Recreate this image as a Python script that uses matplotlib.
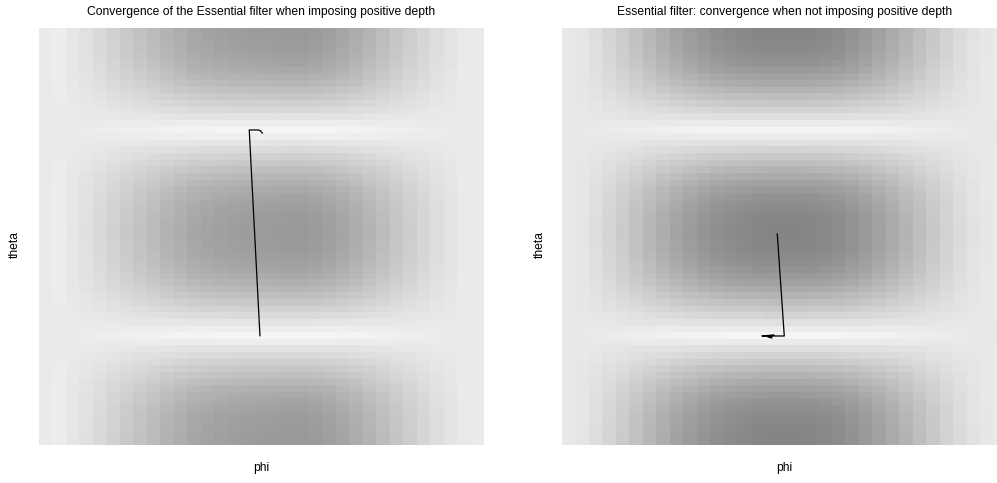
import numpy as np
import matplotlib
matplotlib.use("Agg")
import matplotlib.pyplot as plt

plt.rcParams['font.family'] = ['Liberation Sans', 'DejaVu Sans']

# grid: 33 phi columns, 63 theta rows
phi = np.linspace(-np.pi, np.pi, 33)
theta = np.linspace(0, np.pi, 63)

# grey level (0-255) across phi, read on the darkest theta row
cols_left = [234, 237, 230, 224, 217, 209, 201, 194, 187, 179, 173, 167, 163, 160, 158, 156, 155,
             154, 153, 153, 155, 159, 165, 172, 180, 188, 197, 205, 213, 221, 227, 233, 235]
cols_right = [232, 229, 222, 213, 203, 193, 183, 173, 164, 156, 149, 143, 139, 136, 134, 133, 133,
              133, 134, 136, 140, 146, 153, 161, 170, 180, 190, 200, 210, 219, 226, 231, 233]

# grey level across theta (bottom to top), read on the central phi column
rows_left = [153, 153, 154, 155, 157, 160, 164, 169, 175, 182, 190, 198, 207, 216, 226, 237, 245,
             238, 228, 218, 208, 199, 190, 182, 175, 169, 164, 160, 157, 155, 154, 153,
             153,
             154, 155, 157, 160, 164, 169, 175, 182, 190, 199, 208, 218, 228, 238,
             245,
             237, 226, 216, 207, 198, 190, 182, 175, 169, 164, 160, 157, 155, 154, 153]
rows_right = [133, 133, 134, 136, 138, 142, 147, 153, 161, 169, 179, 189, 200, 211, 222, 235, 245,
              236, 224, 212, 201, 190, 180, 170, 161, 153, 147, 142, 138, 135, 134, 133,
              133,
              134, 135, 138, 142, 147, 153, 161, 170, 180, 190, 201, 212, 224, 236,
              245,
              235, 222, 211, 200, 189, 179, 169, 161, 153, 147, 142, 138, 136, 134, 133]

# filter trajectories (phi, theta)
path_left_phi = [-0.022, -0.178, -0.044, -0.01, 0.012]
path_left_theta = [0.811, 2.386, 2.386, 2.378, 2.362]
path_right_phi = [-0.105, -0.003, -0.328, -0.153, -0.240, -0.182, -0.211, -0.19]
path_right_theta = [1.590, 0.809, 0.809, 0.817, 0.801, 0.794, 0.809, 0.805]


def grid(cols, rows, edge):
    c = edge - np.array(cols, float)
    r = edge - np.array(rows, float)
    return edge - np.outer(r, c) / r.max()


dphi = phi[1] - phi[0]
dth = theta[1] - theta[0]
ext = [phi[0] - dphi / 2, phi[-1] + dphi / 2, theta[0] - dth / 2, theta[-1] + dth / 2]

fig = plt.figure(figsize=(9.97, 4.83), dpi=100)

panels = [
    (0.0391, cols_left, rows_left, 234, path_left_phi, path_left_theta,
     'Convergence of the Essential filter when imposing positive depth', 0.015),
    (0.5637, cols_right, rows_right, 232, path_right_phi, path_right_theta,
     'Essential filter: convergence when not imposing positive depth', 0.5416),
]

fs = 8.7
for x0, cols, rows, edge, px, py, title, ylab_x in panels:
    ax = fig.add_axes([x0, 0.0787, 0.4463, 0.8634])
    ax.imshow(grid(cols, rows, edge), cmap='gray', vmin=0, vmax=255, origin='lower',
              extent=ext, aspect='auto', interpolation='nearest')
    ax.plot(px, py, color='black', lw=0.9)
    ax.set_xlim(ext[0], ext[1])
    ax.set_ylim(ext[2], ext[3])
    ax.set_xticks([])
    ax.set_yticks([])
    for s in ax.spines.values():
        s.set_visible(False)
    xc = x0 + 0.4463 / 2
    fig.text(xc, 0.975, title, fontsize=fs, ha='center', va='center')
    fig.text(xc, 0.031, 'phi', fontsize=fs, ha='center', va='center')
    fig.text(ylab_x, 0.4928, 'theta', fontsize=fs, ha='center', va='center', rotation=90)

fig.savefig('out.png', dpi=100)
